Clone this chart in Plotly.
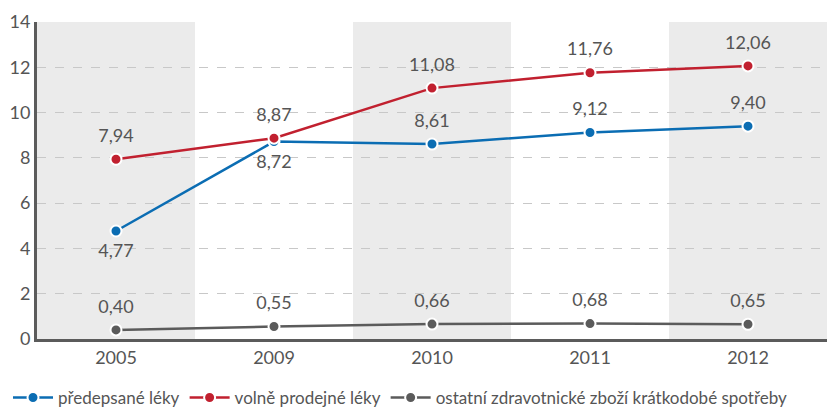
import plotly.graph_objects as go

years = ["2005", "2009", "2010", "2011", "2012"]
predepsane = [4.77, 8.72, 8.61, 9.12, 9.40]
volne = [7.94, 8.87, 11.08, 11.76, 12.06]
ostatni = [0.40, 0.55, 0.66, 0.68, 0.65]
names = ["předepsané léky", "volně prodejné léky", "ostatní zdravotnické zboží krátkodobé spotřeby"]
colors = ["#0b6db3", "#c1202f", "#5b5b5b"]
blue_pos = ["bottom center", "bottom center", "top center", "top center", "top center"]

def fmt(v):
    return f"{v:.2f}".replace(".", ",")

FONT = "Lato"
TXT = "#555555"

fig = go.Figure()
series = [(predepsane, blue_pos), (volne, ["top center"] * 5), (ostatni, ["top center"] * 5)]
for (vals, pos), name, col in zip(series, names, colors):
    fig.add_trace(go.Scatter(
        x=years, y=vals, name=name, mode="lines+markers",
        line=dict(color=col, width=2.5),
        marker=dict(color=col, size=11, line=dict(color="white", width=2)),
        cliponaxis=False,
    ))
for (vals, pos), name, col in zip(series, names, colors):
    fig.add_trace(go.Scatter(
        x=years, y=vals, mode="markers+text", showlegend=False, hoverinfo="skip",
        text=[fmt(v) for v in vals], textposition=pos,
        textfont=dict(family=FONT, size=18, color=TXT),
        marker=dict(color=col, size=19, opacity=0),
        cliponaxis=False,
    ))

for i in [0, 2, 4]:
    fig.add_shape(type="rect", xref="x", yref="y", x0=i - 0.5, x1=i + 0.5, y0=0, y1=14,
                  fillcolor="#ebebeb", line=dict(width=0), layer="below")

fig.update_layout(
    width=829, height=400,
    margin=dict(l=29, r=10, t=14, b=69),
    paper_bgcolor="white", plot_bgcolor="white",
    font=dict(family=FONT, size=17, color=TXT),
    showlegend=True,
    legend=dict(orientation="h", x=0, xref="container", xanchor="left",
                y=0.025, yref="container", yanchor="middle",
                font=dict(family=FONT, size=17, color=TXT), itemwidth=40,
                traceorder="normal"),
    xaxis=dict(type="category", range=[-0.5, 4.5], showgrid=False, ticks="",
               showline=True, linecolor="#5b5b5b", linewidth=3, automargin=False,
               tickfont=dict(family=FONT, size=18, color=TXT)),
    yaxis=dict(range=[0, 14], dtick=2, showgrid=True, gridcolor="#c8c8c8", griddash="dash",
               gridwidth=1, showline=True, linecolor="#5b5b5b", linewidth=3, zeroline=False,
               ticks="", automargin=False, tickfont=dict(family=FONT, size=18, color=TXT)),
)
fig.write_html("out.html")
